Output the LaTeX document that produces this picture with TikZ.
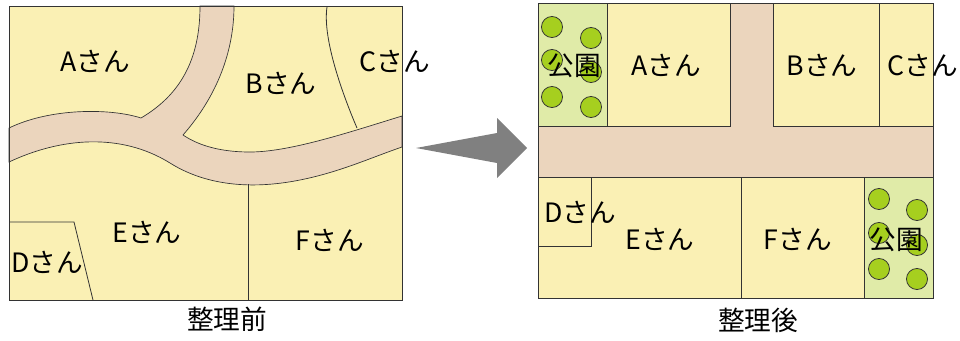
\documentclass[tikz,border=0pt]{standalone}
\usepackage{fontspec}
\setmainfont{Noto Sans CJK JP}
\definecolor{lotyellow}{HTML}{FAF0B4}
\definecolor{roadbeige}{HTML}{EBD5BD}
\definecolor{parkgreen}{HTML}{E0EBA8}
\definecolor{treegreen}{HTML}{A6CF1F}
\definecolor{edgegray}{HTML}{333333}
\definecolor{arrowgray}{HTML}{808080}
\tikzset{
  lot/.style={fill=lotyellow, draw=edgegray, line width=0.6pt},
  road/.style={fill=roadbeige, draw=edgegray, line width=0.5pt},
  park/.style={fill=parkgreen, draw=edgegray, line width=0.6pt},
  tree/.style={fill=treegreen, draw=edgegray, line width=0.6pt},
  border/.style={draw=edgegray, line width=0.6pt},
  owner/.style={font=\fontsize{20}{20}\selectfont, inner sep=0pt},
  caption/.style={font=\fontsize{20}{20}\selectfont, inner sep=0pt}
}
\begin{document}
\begin{tikzpicture}[x=0.75pt, y=-0.75pt]
    \useasboundingbox (0,0) rectangle (960,340);

    % Left: before the readjustment
    \fill[lotyellow] (9,6) rectangle (402,300);

    % Winding road
    \draw[road] (200,6) .. controls (200,60) and (180,95) .. (141,118)
        .. controls (110,108) and (50,108) .. (9,128)
        -- (9,162)
        .. controls (60,138) and (120,132) .. (170,163)
        .. controls (205,185) and (250,190) .. (300,180)
        .. controls (340,172) and (370,158) .. (402,147)
        -- (402,116)
        .. controls (350,132) and (290,152) .. (250,152)
        .. controls (215,152) and (195,143) .. (183,135)
        .. controls (218,95) and (234,50) .. (234,6) -- cycle;

    % Lot boundaries
    \draw[border] (327,7) .. controls (322,40) and (345,100) .. (357,128);
    \draw[border] (9,222) -- (74,222) -- (93,300);
    \draw[border] (248,184) -- (248,300);
    \draw[border] (9,6) rectangle (402,300);

    % Owners
    \node[owner] (oldA) at (95,61) {Aさん};
    \node[owner] (oldB) at (281,83) {Bさん};
    \node[owner] (oldC) at (395,61) {Cさん};
    \node[owner] (oldD) at (47,262) {Dさん};
    \node[owner] (oldE) at (147,232) {Eさん};
    \node[owner] (oldF) at (330,240) {Fさん};
    \node[caption] (capBefore) at (227,319) {整理前};

    % Arrow
    \fill[arrowgray] (416,148) -- (497,133) -- (497,118) -- (527,148)
        -- (497,178) -- (497,163) -- cycle;

    % Right: after the readjustment
    \draw[road] (538,3) rectangle (933,298);

    % Top row
    \draw[park] (538,3) rectangle (607,126);
    \draw[lot] (607,3) rectangle (730,126);
    \draw[lot] (773,3) rectangle (879,126);
    \draw[lot] (879,3) rectangle (933,126);

    % Bottom row
    \draw[lot] (538,177) rectangle (741,298);
    \draw[lot] (538,177) rectangle (591,246);
    \draw[lot] (741,177) rectangle (864,298);
    \draw[park] (864,177) rectangle (933,298);

    % Trees
    \foreach \tx/\ty in {552/27, 591/38, 552/60, 591/72, 552/97, 591/107,
                         879/199, 917/210, 879/233, 917/245, 879/269, 917/279}
        \draw[tree] (\tx,\ty) circle [radius=7.9pt];

    % Owners
    \node[owner] (parkN) at (574,66) {公園};
    \node[owner] (newA) at (666,65) {Aさん};
    \node[owner] (newB) at (822,65) {Bさん};
    \node[owner] (newC) at (923,65) {Cさん};
    \node[owner] (newD) at (580,212) {Dさん};
    \node[owner] (newE) at (660,239) {Eさん};
    \node[owner] (newF) at (798,239) {Fさん};
    \node[owner] (parkS) at (896,240) {公園};
    \node[caption] (capAfter) at (758,320) {整理後};
\end{tikzpicture}
\end{document}
